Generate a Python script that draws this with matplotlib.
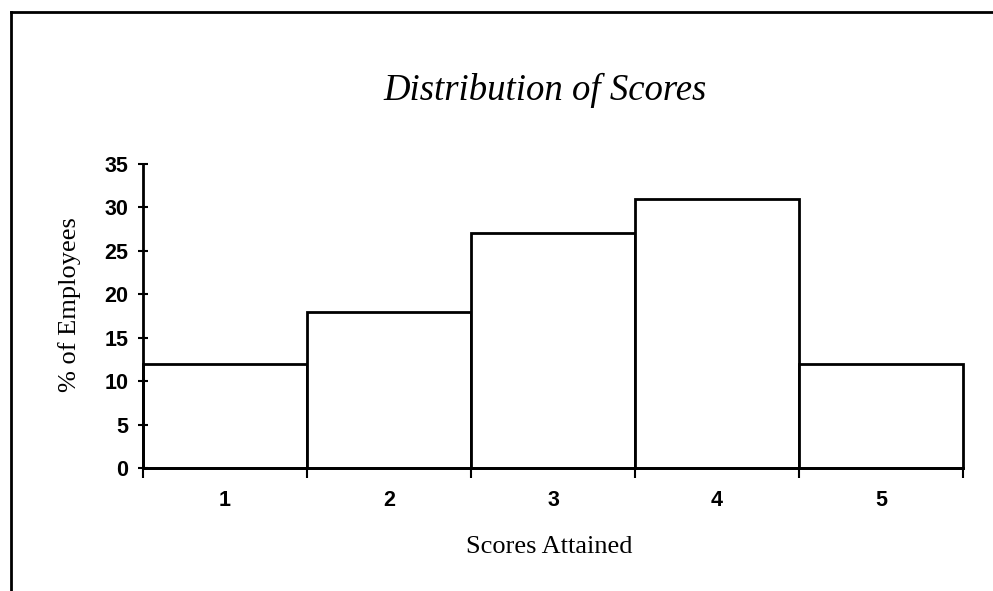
import matplotlib
matplotlib.use("Agg")
import matplotlib.pyplot as plt
from matplotlib.lines import Line2D

# score buckets and share of employees in each
scores = [1, 2, 3, 4, 5]
pct_employees = [12, 18, 27, 31, 12]
y_ticks = [0, 5, 10, 15, 20, 25, 30, 35]

W, H = 993, 591
fig = plt.figure(figsize=(W / 100, H / 100), dpi=100)
ax = fig.add_axes([143 / W, 1 - 468 / H, (963 - 143) / W, (468 - 164) / H])

bars = ax.bar(scores, pct_employees, width=1.0, color="white",
              edgecolor="black", linewidth=2)
for b in bars:
    b.set_clip_on(False)

ax.set_xlim(0.5, 5.5)
ax.set_ylim(0, 35)

for side in ("top", "right"):
    ax.spines[side].set_visible(False)
for side in ("left", "bottom"):
    ax.spines[side].set_linewidth(2)

# boundaries get the tick marks, category numbers sit between them
ax.set_xticks([s - 0.5 for s in scores] + [scores[-1] + 0.5])
ax.set_xticklabels([])
ax.set_xticks(scores, minor=True)
ax.set_xticklabels([str(s) for s in scores], minor=True)
ax.tick_params(axis="x", which="major", direction="out", length=7, width=1.5)
ax.tick_params(axis="x", which="minor", length=0, pad=16)

ax.set_yticks(y_ticks)
ax.tick_params(axis="y", direction="inout", length=7, width=1.5, pad=7)

for lbl in ax.get_xticklabels(minor=True) + ax.get_yticklabels():
    lbl.set_fontfamily("Liberation Sans")
    lbl.set_fontsize(15.5)
    lbl.set_fontweight("bold")

fig.text(545 / W, 1 - 90 / H, "Distribution of Scores", ha="center", va="center",
         family="Liberation Serif", style="italic", fontsize=26.5)
fig.text(70 / W, 1 - 305 / H, "% of Employees", ha="center", va="center",
         rotation=90, family="Liberation Serif", fontsize=19)
fig.text(549 / W, 1 - 547 / H, "Scores Attained", ha="center", va="center",
         family="Liberation Serif", fontsize=19)

# frame around the chart (left and top edges)
fig.add_artist(Line2D([11 / W, 11 / W], [0, 1 - 12 / H], transform=fig.transFigure,
                      color="black", linewidth=2))
fig.add_artist(Line2D([11 / W, 1], [1 - 12 / H, 1 - 12 / H], transform=fig.transFigure,
                      color="black", linewidth=2))

fig.savefig("out.png", dpi=100)
